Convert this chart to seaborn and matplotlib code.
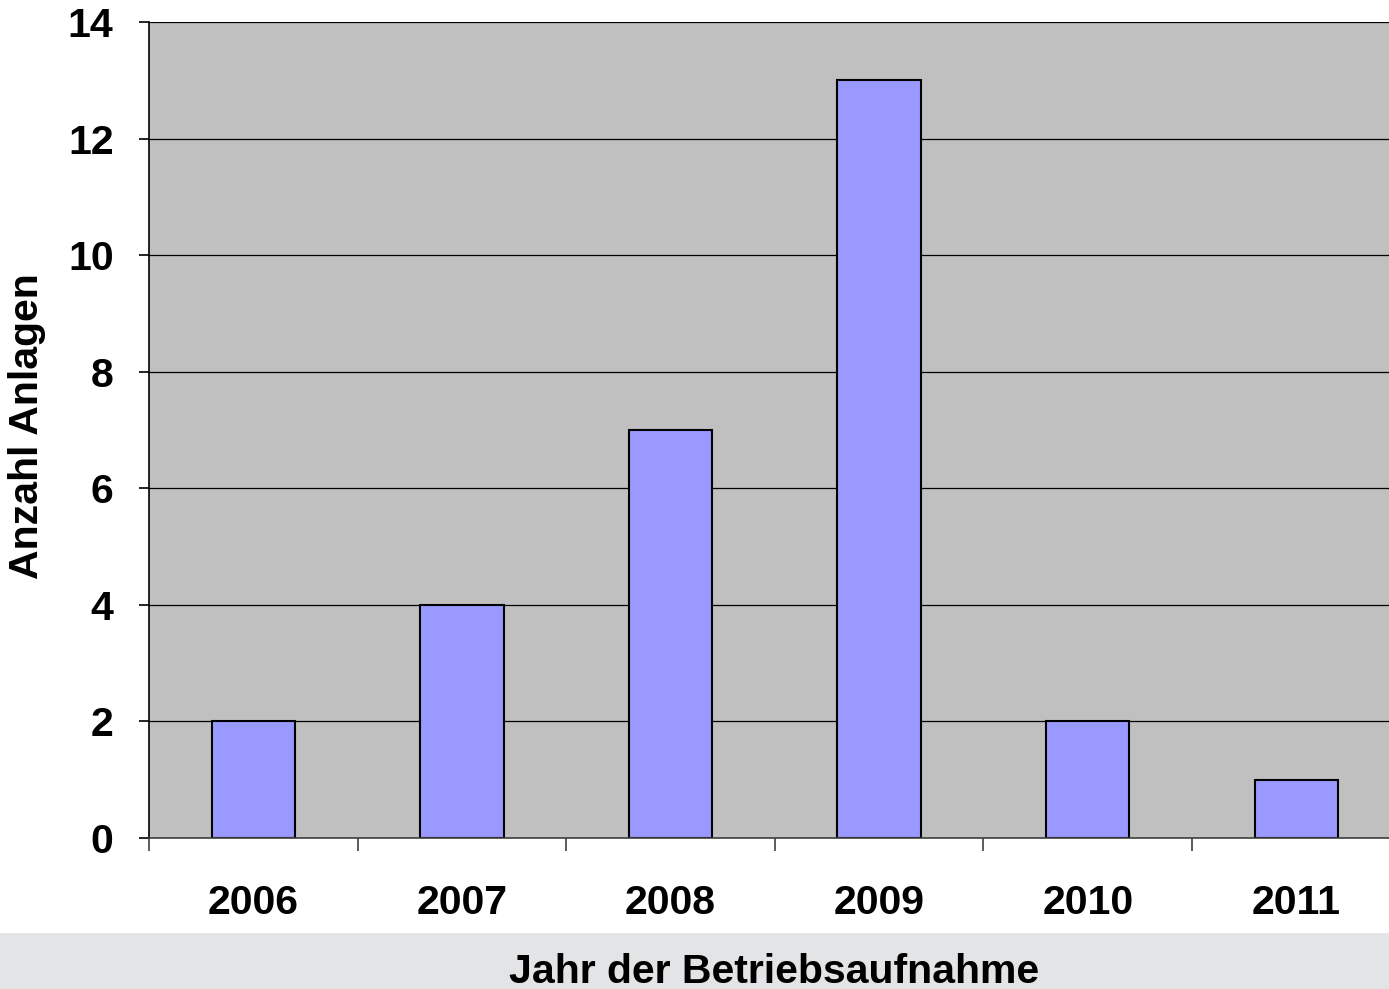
import matplotlib
matplotlib.use("Agg")
import matplotlib.pyplot as plt
import seaborn as sns
import pandas as pd
from matplotlib.patches import Rectangle

years = ["2006", "2007", "2008", "2009", "2010", "2011"]
counts = [2, 4, 7, 13, 2, 1]
y_ticks = [0, 2, 4, 6, 8, 10, 12, 14]

sns.set_style("white")
plt.rcParams['font.family'] = ['Liberation Sans', 'DejaVu Sans']
plt.rcParams['text.color'] = 'black'
plt.rcParams['axes.labelcolor'] = 'black'
plt.rcParams['xtick.color'] = 'black'
plt.rcParams['ytick.color'] = 'black'

df = pd.DataFrame({"Jahr": years, "Anzahl": counts})

fig = plt.figure(figsize=(13.89, 9.89), dpi=100)
fig.patches.append(Rectangle((0, 0), 1, 56 / 989, transform=fig.transFigure,
                             facecolor="#E3E4E6", edgecolor="none", zorder=0))
ax = fig.add_axes([149 / 1389, 151 / 989, 1251.6 / 1389, 816 / 989])
ax.set_facecolor("#C0C0C0")

sns.barplot(data=df, x="Jahr", y="Anzahl", color="#9999FF", edgecolor="black",
            linewidth=1.5, width=0.4, saturation=1, ax=ax, zorder=3)

ax.set_xlim(-0.5, len(years) - 0.5)
ax.set_ylim(0, 14)
ax.set_yticks(y_ticks)
ax.yaxis.grid(True, color="black", linewidth=0.9)
ax.set_axisbelow(True)
for s in ["top", "right"]:
    ax.spines[s].set_visible(False)
ax.spines["left"].set_color("black")
ax.spines["left"].set_linewidth(1.2)
ax.spines["bottom"].set_color("#404040")
ax.spines["bottom"].set_linewidth(1.2)
ax.spines["bottom"].set_zorder(4)

ax.set_xticks([i - 0.5 for i in range(len(years))], minor=True)
ax.tick_params(axis="x", which="major", length=0, pad=33, labelsize=29.5, labelcolor="black")
ax.tick_params(axis="x", which="minor", length=9, width=1.2, color="#404040", direction="out", bottom=True)
ax.tick_params(axis="y", length=7.5, width=1.2, color="black", direction="out", left=True, pad=18,
               labelsize=29.5, labelcolor="black")
for lab in ax.get_xticklabels() + ax.get_yticklabels():
    lab.set_fontweight("bold")

ax.set_xlabel("")
ax.set_ylabel("")
fig.text(27 / 1389, 1 - 426 / 989, "Anzahl Anlagen", rotation=90, ha="center", va="center",
         fontsize=29.5, fontweight="bold", color="black")
fig.text(774 / 1389, 1 - 972 / 989, "Jahr der Betriebsaufnahme", ha="center", va="center",
         fontsize=29.5, fontweight="bold", color="black")

fig.savefig("out.png", dpi=100)
